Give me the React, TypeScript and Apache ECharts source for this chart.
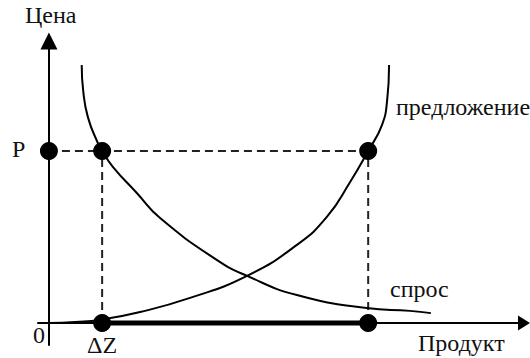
import React, { useEffect, useRef } from 'react';
import * as echarts from 'echarts';

// Key levels
const priceP = 61.0;
const qtyDeltaZ = 11.2;
const qtyRight = 67.2;

// Demand curve ("спрос")
const demandX = [6.9, 7.2, 8.2, 10.3, 11.2, 13.5, 18.5, 23.4, 35.4, 41.7, 52.2, 66.9, 76.0, 80.4];
const demandY = [91.5, 82.6, 73.0, 63.8, 61.0, 55.3, 46.1, 37.2, 22.3, 16.7, 9.9, 5.3, 4.3, 3.5];

// Supply curve ("предложение")
const supplyX = [0, 5.5, 10.7, 19.2, 29.7, 41.7, 52.2, 58.5, 63.4, 67.2, 70.1, 71.2, 71.6];
const supplyY = [0, 0.4, 1.1, 3.9, 8.9, 16.7, 27.7, 37.6, 50.0, 61.0, 70.2, 79.1, 91.5];

// Texts
const yAxisName = 'Цена';
const xAxisName = 'Продукт';
const priceLabel = 'P';
const originLabel = '0';
const deltaLabel = 'ΔZ';
const supplyName = 'предложение';
const demandName = 'спрос';

const zip = (xs: number[], ys: number[]) => xs.map((x, i) => [x, ys[i]]);

export default function App() {
  const ref = useRef<HTMLDivElement>(null);
  useEffect(() => {
    const chart = echarts.init(ref.current!, null, { renderer: 'svg' });
    const fs = 24;
    const serif = 'Liberation Serif';
    const label = (text: string, x: number, baseline: number) => ({
      text,
      left: x,
      top: baseline - fs * 0.34 - fs / 2,
      padding: 0,
      itemGap: 0,
      textStyle: {
        fontSize: fs,
        fontFamily: serif,
        fontWeight: 'normal',
        color: '#111',
      },
    });
    const dash = { color: '#222', width: 2, type: [8, 5] };
    const dashSeries = (data: number[][]) => ({
      type: 'line',
      data,
      symbol: 'none',
      lineStyle: dash,
      silent: true,
      z: 1,
    });
    const axisCommon = {
      type: 'value',
      axisTick: { show: false },
      axisLabel: { show: false },
      splitLine: { show: false },
    };
    chart.setOption({
      animation: false,
      backgroundColor: '#fff',
      textStyle: { fontFamily: serif },
      title: [
        label(yAxisName, 25, 23),
        label(priceLabel, 12, 157),
        label(originLabel, 33, 343),
        label(deltaLabel, 87, 353),
        label(xAxisName, 418, 351),
        label(supplyName, 396, 115),
        label(demandName, 390, 297),
      ],
      grid: { left: 38, right: 6, top: 41, bottom: 13 },
      xAxis: {
        ...axisCommon,
        min: -2.3,
        max: 100,
        axisLine: {
          show: true,
          onZero: true,
          symbol: ['none', 'triangle'],
          symbolSize: [15, 12],
          lineStyle: { color: '#000', width: 2 },
        },
      },
      yAxis: {
        ...axisCommon,
        min: -7.8,
        max: 100,
        axisLine: {
          show: true,
          onZero: true,
          symbol: ['none', 'triangle'],
          symbolSize: [17, 17],
          lineStyle: { color: '#000', width: 2 },
        },
      },
      series: [
        dashSeries([[0, priceP], [qtyRight, priceP]]),
        dashSeries([[qtyDeltaZ, 0], [qtyDeltaZ, priceP]]),
        dashSeries([[qtyRight, 0], [qtyRight, priceP]]),
        {
          type: 'line',
          data: zip(supplyX, supplyY),
          smooth: 0.5,
          symbol: 'none',
          lineStyle: { color: '#000', width: 2 },
          z: 2,
        },
        {
          type: 'line',
          data: zip(demandX, demandY),
          smooth: 0.5,
          symbol: 'none',
          lineStyle: { color: '#000', width: 2 },
          z: 2,
        },
        {
          type: 'line',
          data: [[qtyDeltaZ, 0], [qtyRight, 0]],
          symbol: 'none',
          lineStyle: { color: '#000', width: 5 },
          z: 3,
        },
        {
          type: 'scatter',
          data: [[0, priceP], [qtyDeltaZ, priceP], [qtyRight, priceP], [qtyDeltaZ, 0], [qtyRight, 0]],
          symbol: 'circle',
          symbolSize: 18,
          itemStyle: { color: '#000', opacity: 1 },
          z: 4,
        },
      ],
    });
    return () => chart.dispose();
  }, []);
  return (
    <div
      ref={ref}
      style={{ position: 'fixed', left: 0, top: 0, width: 530, height: 358, background: '#fff' }}
    />
  );
}
